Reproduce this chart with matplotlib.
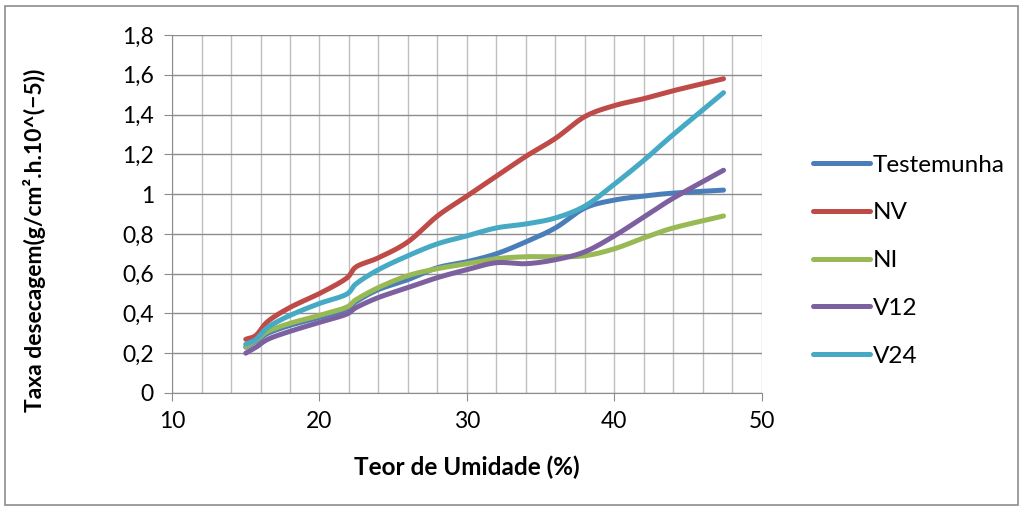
import numpy as np
import matplotlib
matplotlib.use('Agg')
import matplotlib.pyplot as plt
from matplotlib.ticker import MultipleLocator, FuncFormatter
from matplotlib.patches import Rectangle

plt.rcParams['font.family'] = ['Lato', 'DejaVu Sans']

# -- data ------------------------------------------------------------
umidade = [15, 15.7, 16.5, 18, 20, 21.8, 22.5, 24, 26, 28, 30, 32, 34, 36, 38, 40, 42, 44, 47.4]

testemunha = [0.23, 0.26, 0.30, 0.34, 0.38, 0.42, 0.46, 0.52, 0.57, 0.63, 0.66, 0.70, 0.76, 0.83, 0.93, 0.97, 0.99, 1.005, 1.02]
nv = [0.27, 0.29, 0.36, 0.43, 0.50, 0.575, 0.635, 0.68, 0.76, 0.89, 0.99, 1.09, 1.19, 1.28, 1.39, 1.445, 1.48, 1.52, 1.58]
ni = [0.233, 0.265, 0.31, 0.35, 0.39, 0.43, 0.47, 0.53, 0.59, 0.625, 0.65, 0.675, 0.685, 0.685, 0.69, 0.725, 0.78, 0.83, 0.89]
v12 = [0.20, 0.23, 0.27, 0.31, 0.355, 0.395, 0.43, 0.48, 0.53, 0.58, 0.62, 0.655, 0.65, 0.67, 0.71, 0.79, 0.885, 0.98, 1.12]
v24 = [0.245, 0.27, 0.33, 0.39, 0.45, 0.495, 0.55, 0.62, 0.69, 0.75, 0.79, 0.83, 0.85, 0.88, 0.94, 1.05, 1.17, 1.30, 1.51]

series = ['Testemunha', 'NV', 'NI', 'V12', 'V24']
valores = [testemunha, nv, ni, v12, v24]
cores = ['#4A7EBB', '#BE4B48', '#98B954', '#7D60A0', '#46AAC5']


def suavizar(x, y, n=20):
    # Catmull-Rom, like Excel's "smoothed line"
    x = np.asarray(x, float)
    y = np.asarray(y, float)
    px = np.concatenate([[2 * x[0] - x[1]], x, [2 * x[-1] - x[-2]]])
    py = np.concatenate([[2 * y[0] - y[1]], y, [2 * y[-1] - y[-2]]])
    t = np.linspace(0, 1, n, endpoint=False)
    xs, ys = [], []
    for i in range(1, len(px) - 2):
        for p, out in ((px, xs), (py, ys)):
            p0, p1, p2, p3 = p[i - 1], p[i], p[i + 1], p[i + 2]
            out.extend(0.5 * (2 * p1 + (-p0 + p2) * t
                              + (2 * p0 - 5 * p1 + 4 * p2 - p3) * t ** 2
                              + (-p0 + 3 * p1 - 3 * p2 + p3) * t ** 3))
    xs.append(x[-1])
    ys.append(y[-1])
    return xs, ys


fig = plt.figure(figsize=(10.24, 5.11), dpi=100)
ax = fig.add_axes([0.168, 0.231, 0.576, 0.7005])

for nome, y, c in zip(series, valores, cores):
    xs, ys = suavizar(umidade, y)
    ax.plot(xs, ys, color=c, lw=3.6, solid_capstyle='round', label=nome, zorder=3)

ax.set_xlim(10, 50)
ax.set_ylim(0, 1.8)
ax.xaxis.set_major_locator(MultipleLocator(10))
ax.xaxis.set_minor_locator(MultipleLocator(2))
ax.yaxis.set_major_locator(MultipleLocator(0.2))
ax.yaxis.set_major_formatter(FuncFormatter(lambda v, p: ('%g' % round(v, 1)).replace('.', ',')))

ax.grid(True, which='minor', axis='x', color='#BFBFBF', lw=1.0)
ax.grid(True, which='major', axis='x', color='#BFBFBF', lw=1.0)
ax.grid(True, which='major', axis='y', color='#8C8C8C', lw=1.0)
ax.set_axisbelow(True)

for s in ['top', 'right']:
    ax.spines[s].set_visible(False)
for s in ['left', 'bottom']:
    ax.spines[s].set_color('#8C8C8C')
ax.tick_params(which='major', direction='out', length=6, color='#8C8C8C', labelsize=16.5, pad=7)
ax.tick_params(which='minor', length=0)

ax.set_xlabel('Teor de Umidade (%)', fontsize=17.5, fontweight='bold', labelpad=17)
fig.text(0.034, 0.53, 'Taxa desecagem(g/cm².h.10^(\u22125))', rotation=90,
         fontsize=16.5, fontweight='bold', ha='center', va='center')

ax.legend(loc='center left', bbox_to_anchor=(1.086, 0.37), frameon=False, fontsize=17.5,
          handlelength=2.35, handletextpad=0.12, labelspacing=1.1,
          borderpad=0, borderaxespad=0)

fig.patches.append(Rectangle((0.005, 0.012), 0.989, 0.976, transform=fig.transFigure,
                             fill=False, edgecolor='#8C8C8C', lw=1.2))

plt.savefig('out.png', dpi=100)
